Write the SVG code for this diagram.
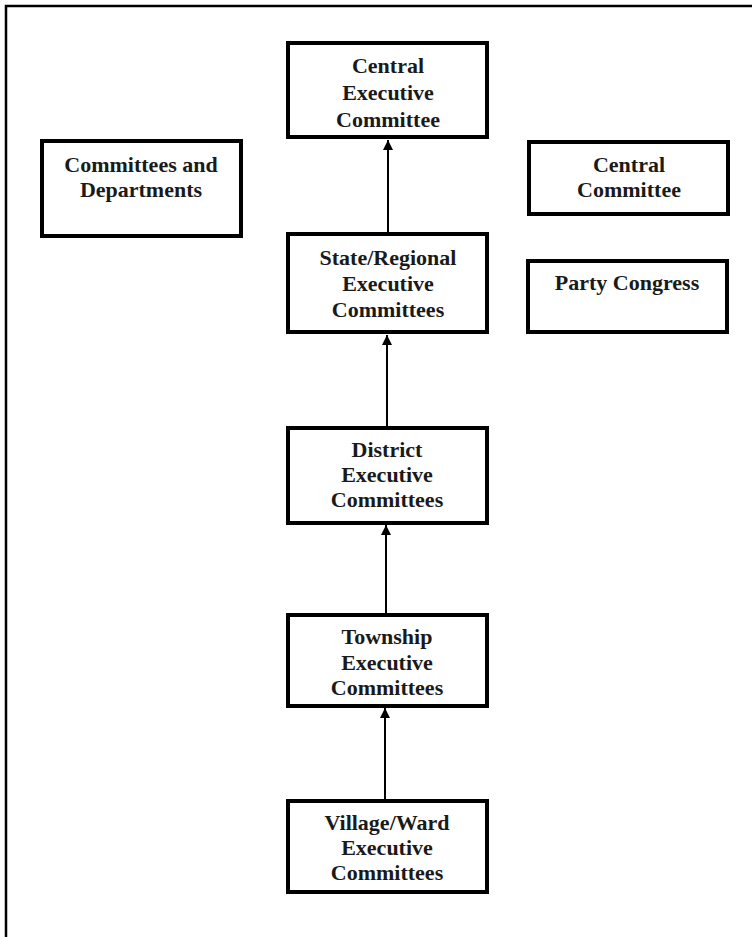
<svg xmlns="http://www.w3.org/2000/svg" width="754" height="937" viewBox="0 0 754 937">
<style>
.box{fill:#fff;stroke:#000;stroke-width:4}
.t{font-family:"Liberation Serif","Times New Roman",serif;font-weight:bold;font-size:22px;fill:#1a1a1a;text-anchor:middle}
.c{stroke:#000;stroke-width:2;fill:none}
</style>
<defs>
<marker id="ah" markerWidth="10" markerHeight="10" viewBox="0 0 10 10" refX="10" refY="5" orient="auto" markerUnits="userSpaceOnUse">
<path d="M0,0 L10,5 L0,10 Z" fill="#000"/>
</marker>
</defs>
<rect width="754" height="937" fill="#fff"/>
<polyline points="6,937 6,6 752,6" fill="none" stroke="#000" stroke-width="2.5"/>
<g id="connectors">
<line class="c" x1="388" y1="233" x2="388" y2="140" marker-end="url(#ah)"/>
<line class="c" x1="387" y1="427" x2="387" y2="335" marker-end="url(#ah)"/>
<line class="c" x1="386" y1="614" x2="386" y2="525" marker-end="url(#ah)"/>
<line class="c" x1="385" y1="800" x2="385" y2="708" marker-end="url(#ah)"/>
</g>
<g id="central-exec">
<rect class="box" x="288" y="43" width="199" height="94"/>
<text class="t" x="388" y="73">Central</text>
<text class="t" x="388" y="100">Executive</text>
<text class="t" x="388" y="127">Committee</text>
</g>
<g id="committees-departments">
<rect class="box" x="42" y="141" width="199" height="95"/>
<text class="t" x="141" y="172">Committees and</text>
<text class="t" x="141" y="197">Departments</text>
</g>
<g id="central-committee">
<rect class="box" x="529" y="142" width="199" height="72"/>
<text class="t" x="629" y="172">Central</text>
<text class="t" x="629" y="197">Committee</text>
</g>
<g id="state-regional">
<rect class="box" x="288" y="234" width="199" height="98"/>
<text class="t" x="388" y="265">State/Regional</text>
<text class="t" x="388" y="291">Executive</text>
<text class="t" x="388" y="317">Committees</text>
</g>
<g id="party-congress">
<rect class="box" x="528" y="261" width="199" height="71"/>
<text class="t" x="627" y="290">Party Congress</text>
</g>
<g id="district">
<rect class="box" x="288" y="428" width="199" height="95"/>
<text class="t" x="387" y="457">District</text>
<text class="t" x="387" y="482">Executive</text>
<text class="t" x="387" y="507">Committees</text>
</g>
<g id="township">
<rect class="box" x="288" y="615" width="199" height="91"/>
<text class="t" x="387" y="644">Township</text>
<text class="t" x="387" y="670">Executive</text>
<text class="t" x="387" y="695">Committees</text>
</g>
<g id="village-ward">
<rect class="box" x="288" y="801" width="199" height="91"/>
<text class="t" x="387" y="830">Village/Ward</text>
<text class="t" x="387" y="855">Executive</text>
<text class="t" x="387" y="880">Committees</text>
</g>
</svg>
